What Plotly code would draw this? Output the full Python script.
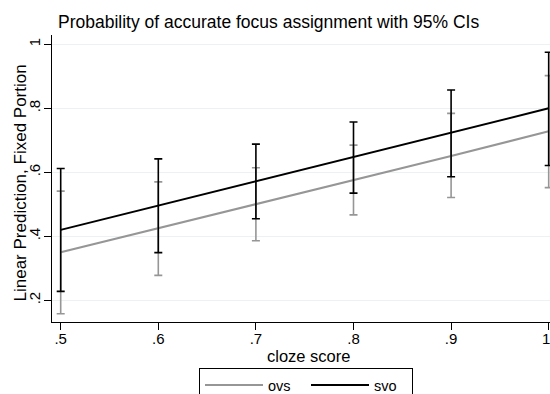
import plotly.graph_objects as go

cloze = [0.5, 0.6, 0.7, 0.8, 0.9, 1.0]

ovs_pred = [0.350, 0.425, 0.501, 0.576, 0.651, 0.728]
ovs_lo = [0.158, 0.278, 0.386, 0.467, 0.521, 0.552]
ovs_hi = [0.541, 0.570, 0.614, 0.685, 0.784, 0.902]

svo_pred = [0.420, 0.496, 0.572, 0.648, 0.724, 0.800]
svo_lo = [0.228, 0.349, 0.455, 0.535, 0.586, 0.621]
svo_hi = [0.612, 0.642, 0.688, 0.757, 0.857, 0.975]

x_ticks = [0.5, 0.6, 0.7, 0.8, 0.9, 1.0]
x_ticklabels = [".5", ".6", ".7", ".8", ".9", "1"]
y_ticks = [0.2, 0.4, 0.6, 0.8, 1.0]
y_ticklabels = [".2", ".4", ".6", ".8", "1"]

GREY = "rgb(150,150,150)"
BLACK = "rgb(0,0,0)"
FONT = "Liberation Sans, Arial, Helvetica, sans-serif"

W, H = 550, 394
L, R, T, B = 52, 0, 35, 72
PW, PH = W - L - R, H - T - B


def series(name, pred, lo, hi, color):
    return go.Scatter(
        x=cloze, y=pred, name=name, mode="lines",
        line=dict(color=color, width=2),
        error_y=dict(type="data", symmetric=False,
                     array=[h - p for h, p in zip(hi, pred)],
                     arrayminus=[p - l for p, l in zip(pred, lo)],
                     color=color, thickness=1.6, width=4),
    )


fig = go.Figure()
fig.add_trace(series("ovs", ovs_pred, ovs_lo, ovs_hi, GREY))
fig.add_trace(series("svo", svo_pred, svo_lo, svo_hi, BLACK))

# the last x tick label sits on the window edge, where plotly would hide it;
# it is drawn as an annotation anchored to the x axis at its tick value
edge_label = dict(text=x_ticklabels[-1], xref="x", yref="paper",
                  x=x_ticks[-1], xshift=-2.5, y=(T + PH - 338) / PH,
                  xanchor="center", yanchor="middle", showarrow=False,
                  font=dict(size=15, family=FONT, color="black"))

fig.update_layout(
    width=W, height=H,
    margin=dict(l=L, r=R, t=T, b=B, pad=0, autoexpand=False),
    paper_bgcolor="white", plot_bgcolor="white",
    font=dict(family=FONT, color="black", size=14),
    title=dict(text="Probability of accurate focus assignment with 95% CIs",
               xref="container", yref="container", automargin=False,
               x=58 / W, xanchor="left", y=1 - 22 / H, yanchor="middle",
               font=dict(size=17.5, family=FONT, color="black")),
    showlegend=True,
    legend=dict(orientation="h", x=(306 - L) / PW, xanchor="center",
                y=(T + PH - 368) / PH, yanchor="top",
                bordercolor="black", borderwidth=1,
                font=dict(size=14.5, family=FONT), itemwidth=58, entrywidth=33,
                bgcolor="white", tracegroupgap=0),
    annotations=[
        dict(text="cloze score", xref="paper", yref="paper",
             x=(308 - L) / PW, y=(T + PH - 356) / PH,
             xanchor="center", yanchor="middle", showarrow=False,
             font=dict(size=16.5, family=FONT, color="black")),
        dict(text="Linear Prediction, Fixed Portion", xref="paper", yref="paper",
             x=(20 - L) / PW, y=(T + PH - 183.5) / PH, textangle=-90,
             xanchor="center", yanchor="middle", showarrow=False,
             font=dict(size=17, family=FONT, color="black")),
        edge_label,
    ],
)

fig.update_xaxes(
    range=[0.49109, 1.00133], automargin=False,
    tickvals=x_ticks, ticktext=x_ticklabels[:-1] + [""],
    showgrid=False, zeroline=False,
    showline=True, linecolor="black", linewidth=1,
    ticks="outside", ticklen=7, tickcolor="black", tickwidth=1,
    tickfont=dict(size=15), ticklabelstandoff=-4,
)
fig.update_yaxes(
    range=[0.1322, 1.029], automargin=False,
    tickvals=y_ticks, ticktext=y_ticklabels, tickangle=-90,
    showgrid=True, gridcolor="rgb(234,242,243)", gridwidth=1,
    zeroline=False,
    showline=True, linecolor="black", linewidth=1,
    ticks="outside", ticklen=7, tickcolor="black", tickwidth=1,
    tickfont=dict(size=15), ticklabelstandoff=-2,
)

# remove the default 8px page margin so the 550x394 figure fills the window
fig.write_html("out.html", config={"displayModeBar": False},
               post_script="document.body.style.margin='0px';")
